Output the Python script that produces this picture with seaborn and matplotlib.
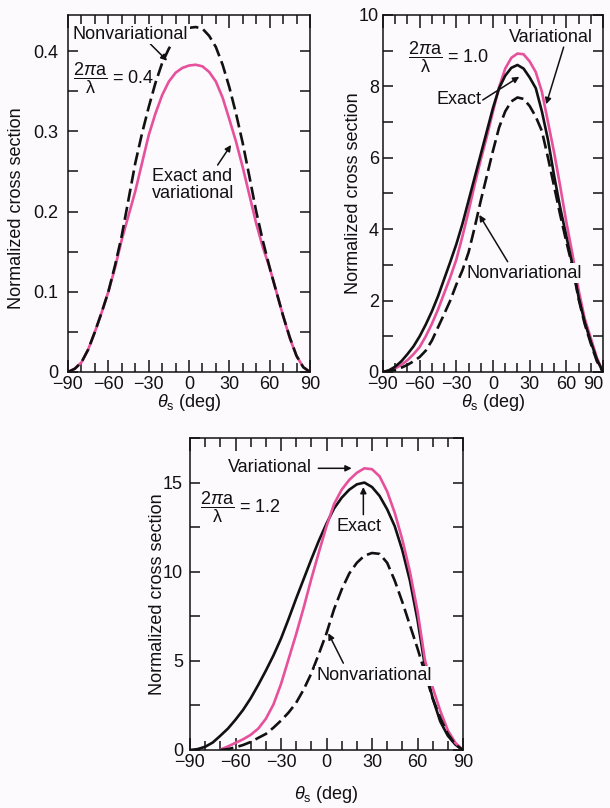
import matplotlib
matplotlib.use("Agg")
import matplotlib.pyplot as plt
import pandas as pd
import seaborn as sns
from matplotlib.ticker import MultipleLocator, FuncFormatter

# scattering angle (deg)
theta = [-90, -85, -80, -75, -70, -65, -60, -55, -50, -45, -40, -35, -30,
         -25, -20, -15, -10, -5, 0, 5, 10, 15, 20, 25, 30, 35, 40, 45, 50,
         55, 60, 65, 70, 75, 80, 85, 90]
theta_late = theta[4:]   # curves that leave zero only from -70 deg
x_ticks = [-90, -60, -30, 0, 30, 60, 90]

# 2*pi*a/lambda = 0.4
exact_var_04 = [0, 0.004, 0.012, 0.028, 0.05, 0.074, 0.10, 0.13, 0.165, 0.195,
                0.225, 0.26, 0.295, 0.322, 0.345, 0.362, 0.373, 0.379, 0.382,
                0.383, 0.381, 0.374, 0.362, 0.342, 0.315, 0.287, 0.255, 0.22,
                0.185, 0.155, 0.13, 0.10, 0.07, 0.042, 0.02, 0.006, 0]
nonvar_04 = [0, 0.004, 0.012, 0.028, 0.05, 0.074, 0.10, 0.133, 0.17, 0.215,
             0.26, 0.297, 0.33, 0.36, 0.385, 0.403, 0.416, 0.425, 0.429, 0.43,
             0.428, 0.419, 0.405, 0.383, 0.355, 0.322, 0.285, 0.243, 0.2,
             0.163, 0.13, 0.10, 0.07, 0.043, 0.02, 0.006, 0]

# 2*pi*a/lambda = 1.0
exact_10 = [0, 0.05, 0.15, 0.3, 0.5, 0.72, 1.0, 1.33, 1.7, 2.12, 2.6, 3.08,
            3.58, 4.15, 4.8, 5.45, 6.1, 6.75, 7.4, 7.95, 8.3, 8.52, 8.6, 8.5,
            8.25, 7.95, 7.3, 6.5, 5.5, 4.6, 3.8, 3.0, 2.1, 1.4, 0.85, 0.35, 0]
var_10 = [0, 0.03, 0.1, 0.2, 0.33, 0.5, 0.7, 1.0, 1.35, 1.75, 2.2, 2.65, 3.15,
          3.8, 4.5, 5.25, 5.95, 6.6, 7.3, 7.98, 8.5, 8.8, 8.92, 8.9, 8.7,
          8.4, 7.85, 7.0, 6.15, 5.2, 4.2, 3.3, 2.3, 1.5, 0.95, 0.4, 0]
nonvar_10 = [0, 0.02, 0.06, 0.12, 0.2, 0.3, 0.42, 0.6, 0.88, 1.25, 1.62, 2.0,
             2.45, 2.85, 3.35, 4.05, 4.8, 5.5, 6.2, 6.85, 7.3, 7.58, 7.69,
             7.65, 7.45, 7.15, 6.75, 6.0, 5.2, 4.4, 3.65, 2.95, 2.05, 1.35,
             0.8, 0.3, 0]

# 2*pi*a/lambda = 1.2
exact_12 = [0, 0.05, 0.18, 0.42, 0.8, 1.2, 1.7, 2.25, 2.9, 3.65, 4.45, 5.3,
            6.25, 7.35, 8.5, 9.6, 10.7, 11.75, 12.7, 13.55, 14.15, 14.6, 14.9,
            15.0, 14.75, 14.25, 13.5, 12.55, 11.2, 9.5, 7.3, 4.65, 2.9, 1.6,
            0.8, 0.3, 0]
var_12 = [0.02, 0.2, 0.4, 0.6, 0.85, 1.2, 1.75, 2.55, 3.7, 5.1, 6.5, 8.0, 9.6,
          11.1, 12.55, 13.8, 14.6, 15.15, 15.55, 15.8, 15.75, 15.35, 14.5,
          13.3, 11.8, 10.0, 7.8, 5.0, 3.5, 2.2, 1.1, 0.4, 0]
nonvar_12 = [0, 0.05, 0.15, 0.28, 0.45, 0.68, 0.9, 1.25, 1.65, 2.1, 2.65,
             3.4, 4.3, 5.4, 6.55, 7.9, 9.0, 9.9, 10.5, 10.9, 11.05, 11.0,
             10.5, 9.5, 8.3, 7.0, 5.7, 4.3, 2.9, 1.8, 0.9, 0.3, 0]

PINK = "#e6509c"
BG = "#fcfafc"
INK = "#111111"
DASH = (0, (5, 2))

sns.set_theme(style="ticks", rc={"text.color": INK, "axes.labelcolor": INK,
                                 "xtick.color": INK, "ytick.color": INK})
plt.rcParams["font.family"] = ["Liberation Sans", "DejaVu Sans"]
plt.rcParams["mathtext.fontset"] = "custom"
plt.rcParams["mathtext.rm"] = "Liberation Sans"
plt.rcParams["mathtext.it"] = "Liberation Sans:italic"
FS = 13

fig = plt.figure(figsize=(6.1, 8.08), dpi=100, facecolor=BG)
ax1 = fig.add_axes([68 / 610, 436 / 808, 242 / 610, 357 / 808])
ax2 = fig.add_axes([383 / 610, 436 / 808, 220 / 610, 357 / 808])
ax3 = fig.add_axes([190 / 610, 58 / 808, 273 / 610, 312 / 808])


def curve(ax, x, y, color, ls="-"):
    df = pd.DataFrame({"theta": x, "sigma": y})
    sns.lineplot(data=df, x="theta", y="sigma", ax=ax, color=color, lw=1.9,
                 linestyle=ls, sort=False, estimator=None)


def style(ax, ymax, ymaj, ymin, fmt, ylab_x, ylab_y, xlab_y, ypad):
    ax.set_facecolor(BG)
    ax.set_xlim(-90, 90)
    ax.set_ylim(0, ymax)
    ax.set_xticks(x_ticks)
    ax.xaxis.set_minor_locator(MultipleLocator(10))
    ax.yaxis.set_major_locator(MultipleLocator(ymaj))
    ax.yaxis.set_minor_locator(MultipleLocator(ymin))
    ax.yaxis.set_major_formatter(FuncFormatter(fmt))
    ax.tick_params(which="both", direction="in", top=True, right=True,
                   color=INK, width=1.1)
    ax.tick_params(axis="x", which="major", length=9, labelsize=FS, pad=3)
    ax.tick_params(axis="x", which="minor", length=6.5)
    ax.tick_params(axis="y", which="both", length=7, labelsize=FS, pad=ypad)
    for sp in ax.spines.values():
        sp.set_color(INK)
        sp.set_linewidth(1.1)
    ax.set_xlabel(r"$\theta_\mathrm{s}$ (deg)", fontsize=FS)
    ax.set_ylabel("Normalized cross section", fontsize=FS)
    ax.yaxis.set_label_coords(ylab_x, ylab_y)
    ax.xaxis.set_label_coords(0.5, xlab_y)


def arrow(ax, tail, tip):
    ax.annotate("", xy=tip, xytext=tail,
                arrowprops=dict(arrowstyle="-|>", color=INK, lw=1.1,
                                mutation_scale=9, shrinkA=0, shrinkB=0))


def ratio(ax, x, y, value):
    ax.text(x, y, r"$\dfrac{2\pi\mathrm{a}}{\mathrm{\lambda}}$ = " + value,
            fontsize=FS, ha="left", va="center")


white = dict(facecolor=BG, edgecolor="none", pad=1)

# ---- 0.4 ----
curve(ax1, theta, exact_var_04, PINK)
curve(ax1, theta, nonvar_04, INK, DASH)
style(ax1, 0.445, 0.1, 0.05, lambda v, p: "0" if v == 0 else f"{v:.1f}",
      -0.178, 0.46, -0.055, 7)
ax1.text(-86.5, 0.421, "Nonvariational", fontsize=FS, ha="left", va="center",
         bbox=white, zorder=5)
arrow(ax1, (-28.8, 0.409), (-16.3, 0.388))
ratio(ax1, -86, 0.366, "0.4")
ax1.text(-27.5, 0.233, "Exact and\nvariational", fontsize=FS, ha="left",
         va="center", linespacing=1.05)
arrow(ax1, (21.3, 0.258), (31.3, 0.283))

# ---- 1.0 ----
curve(ax2, theta, var_10, PINK)
curve(ax2, theta, exact_10, INK)
curve(ax2, theta, nonvar_10, INK, DASH)
style(ax2, 10, 2, 1, lambda v, p: f"{v:.0f}", -0.095, 0.5, -0.055, 3)
ax2.text(13, 9.36, "Variational", fontsize=FS, ha="left", va="center")
arrow(ax2, (57.8, 9.1), (43.5, 7.5))
ax2.text(-46.6, 7.62, "Exact", fontsize=FS, ha="left", va="center")
arrow(ax2, (-8.4, 7.62), (21.5, 8.27))
ax2.text(-22, 2.77, "Nonvariational", fontsize=FS, ha="left", va="center",
         bbox=white, zorder=5)
arrow(ax2, (12, 3.09), (-11.2, 4.4))
ratio(ax2, -69.5, 8.82, "1.0")
# the last tick label sits inside the page edge, as in the original
ax2.get_xticklabels()[-1].set_horizontalalignment("right")

# ---- 1.2 ----
curve(ax3, theta, exact_12, INK)
curve(ax3, theta_late, var_12, PINK)
curve(ax3, theta_late, nonvar_12, INK, DASH)
style(ax3, 17.5, 5, 2.5, lambda v, p: f"{v:.0f}", -0.088, 0.5, -0.11, 5)
ax3.text(-64.9, 15.84, "Variational", fontsize=FS, ha="left", va="center")
arrow(ax3, (-5.4, 15.8), (16.6, 15.8))
ax3.text(6.7, 12.55, "Exact", fontsize=FS, ha="left", va="center")
arrow(ax3, (24.3, 13.2), (24.3, 14.75))
ax3.text(-6.5, 4.16, "Nonvariational", fontsize=FS, ha="left", va="center",
         bbox=white, zorder=5)
arrow(ax3, (11.1, 4.87), (1.2, 6.55))
ratio(ax3, -83.4, 13.6, "1.2")

fig.savefig("out.png", dpi=100, facecolor=BG)
